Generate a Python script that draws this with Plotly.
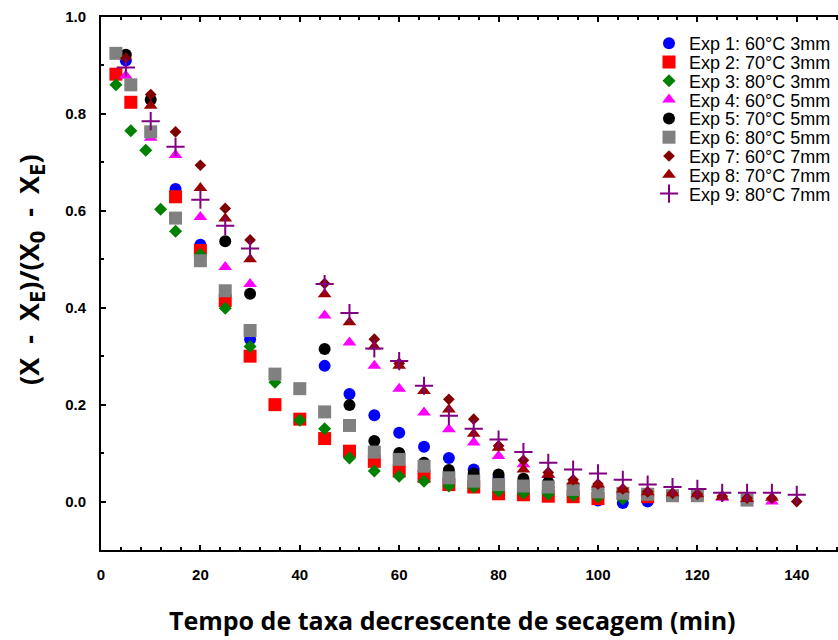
import plotly.graph_objects as go

# ---- data (time in min, dimensionless moisture ratio) ----
t1 = [5, 15, 20, 30, 45, 50, 55, 60, 65, 70, 75, 80, 85, 90, 95, 100, 105, 110]
v1 = [0.91, 0.645, 0.53, 0.335, 0.28, 0.222, 0.178, 0.142, 0.113, 0.09, 0.066, 0.05, 0.04, 0.03, 0.02, 0.002, -0.003, 0.0]

t2 = [3, 6, 15, 20, 25, 30, 35, 40, 45, 50, 55, 60, 65, 70, 75, 80, 85, 90, 95, 100, 110]
v2 = [0.882, 0.824, 0.629, 0.518, 0.415, 0.30, 0.20, 0.17, 0.13, 0.104, 0.083, 0.063, 0.052, 0.035, 0.03, 0.016, 0.014, 0.011, 0.01, 0.006, 0.01]

t3 = [3, 6, 9, 12, 15, 20, 25, 30, 35, 40, 45, 50, 55, 60, 65, 70, 75, 80, 85, 90, 95, 100, 105]
v3 = [0.86, 0.765, 0.725, 0.603, 0.558, 0.51, 0.399, 0.32, 0.246, 0.168, 0.15, 0.09, 0.063, 0.052, 0.042, 0.032, 0.03, 0.022, 0.017, 0.015, 0.013, 0.01, 0.006]

t4 = [5, 10, 15, 20, 25, 30, 45, 50, 55, 60, 65, 70, 75, 80, 85, 90, 95, 100, 105, 110, 115, 120, 125, 130, 135]
v4 = [0.879, 0.751, 0.715, 0.587, 0.484, 0.449, 0.384, 0.328, 0.28, 0.233, 0.184, 0.149, 0.122, 0.094, 0.077, 0.055,
      0.04, 0.03, 0.022, 0.017, 0.014, 0.012, 0.008, 0.004, 0.0]

t5 = [5, 10, 25, 30, 45, 50, 55, 60, 65, 70, 75, 80, 85, 90]
v5 = [0.922, 0.829, 0.537, 0.429, 0.315, 0.199, 0.125, 0.10, 0.08, 0.065, 0.058, 0.056, 0.047, 0.04]

t6 = [3, 6, 10, 15, 20, 25, 30, 35, 40, 45, 50, 55, 60, 65, 70, 75, 80, 85, 90, 95, 100, 105, 110, 115, 120, 130]
v6 = [0.925, 0.86, 0.763, 0.585, 0.497, 0.435, 0.353, 0.263, 0.233, 0.185, 0.157, 0.102, 0.087, 0.073, 0.049, 0.042,
      0.035, 0.032, 0.03, 0.025, 0.02, 0.017, 0.015, 0.012, 0.012, 0.003]

t7 = [5, 10, 15, 20, 25, 30, 45, 55, 60, 70, 75, 80, 85, 90, 95, 100, 105, 110, 115, 120, 125, 130, 135, 140]
v7 = [0.915, 0.84, 0.763, 0.694, 0.605, 0.54, 0.45, 0.335, 0.285, 0.211, 0.17, 0.115, 0.085, 0.06, 0.045, 0.036,
      0.026, 0.02, 0.017, 0.015, 0.011, 0.007, 0.007, 0.0]

t8 = [10, 20, 25, 30, 45, 50, 55, 60, 65, 70, 75, 80, 85, 90, 95, 100, 105, 110, 115, 120, 125, 130, 135]
v8 = [0.817, 0.647, 0.584, 0.50, 0.428, 0.37, 0.32, 0.28, 0.228, 0.19, 0.14, 0.111, 0.066, 0.056, 0.042, 0.035,
      0.025, 0.019, 0.017, 0.015, 0.01, 0.005, 0.008]

t9 = [5, 10, 15, 20, 25, 30, 45, 50, 55, 60, 65, 70, 75, 80, 85, 90, 95, 100, 105, 110, 115, 120, 125, 130, 135, 140]
v9 = [0.896, 0.785, 0.732, 0.623, 0.569, 0.522, 0.449, 0.389, 0.316, 0.29, 0.239, 0.177, 0.15, 0.128, 0.102, 0.08,
      0.066, 0.058, 0.045, 0.035, 0.03, 0.026, 0.018, 0.018, 0.018, 0.014]

names = ["Exp 1: 60°C 3mm", "Exp 2: 70°C 3mm", "Exp 3: 80°C 3mm",
         "Exp 4: 60°C 5mm", "Exp 5: 70°C 5mm", "Exp 6: 80°C 5mm",
         "Exp 7: 60°C 7mm", "Exp 8: 70°C 7mm", "Exp 9: 80°C 7mm"]
x_ticks = [0, 20, 40, 60, 80, 100, 120, 140]
x_title = "Tempo de taxa decrescente de secagem (min)"
y_title = ("(X&nbsp; -&nbsp; X<sub><span style='font-size:22px'>E</span></sub>)/"
           "(X<sub><span style='font-size:22px'>0</span></sub>&nbsp; -&nbsp; X<sub><span style='font-size:22px'>E</span></sub>)")

series = [(t1, v1), (t2, v2), (t3, v3), (t4, v4), (t5, v5), (t6, v6), (t7, v7), (t8, v8), (t9, v9)]
styles = [
    dict(symbol="circle", color="#0000FF", size=12),
    dict(symbol="square", color="#FF0000", size=13),
    dict(symbol="diamond", color="#008000", size=10),
    dict(symbol="triangle-up", color="#FF00FF", size=12),
    dict(symbol="circle", color="#000000", size=12),
    dict(symbol="square", color="#808080", size=13),
    dict(symbol="diamond", color="#800000", size=9),
    dict(symbol="triangle-up", color="#990000", size=12),
    dict(symbol="cross-thin", color="#800080", size=13),
]

# layout geometry of the plot area (pixels)
W, H = 838, 640
ML, MR, MT, MB = 101, 0, 17, 90
plot_w = W - ML - MR
plot_h = H - MT - MB

fig = go.Figure()
legend_layouts = {}
legend_font = dict(family="Liberation Sans, Arial", size=18, color="black")
for i, ((t, v), nm, st) in enumerate(zip(series, names, styles)):
    if st["symbol"] == "cross-thin":
        marker = dict(symbol="cross-thin", size=st["size"], color=st["color"],
                      line=dict(color=st["color"], width=2))
    else:
        marker = dict(symbol=st["symbol"], size=st["size"], color=st["color"], line=dict(width=0))
    lg = "legend" if i == 0 else f"legend{i + 1}"
    fig.add_trace(go.Scatter(x=t, y=v, mode="markers", name=nm, marker=marker, legend=lg))
    center_px = 43.5 + 18.8 * i
    legend_layouts[lg] = dict(
        x=(649 - ML) / plot_w, y=(MT + plot_h - center_px) / plot_h,
        xanchor="left", yanchor="middle",
        bgcolor="rgba(0,0,0,0)", borderwidth=0, font=legend_font, itemwidth=30)

tick_font = dict(family="Liberation Sans, Arial", size=15, color="black", weight="bold")
xtitle_font = dict(family="Open Sans", size=25, color="black", weight="bold")
ytitle_font = dict(family="Open Sans", size=27, color="black", weight="bold")

fig.update_layout(
    width=W, height=H,
    margin=dict(l=ML, r=MR, t=MT, b=MB),
    paper_bgcolor="white", plot_bgcolor="white",
    showlegend=True,
    xaxis=dict(range=[0, 148.3], tickmode="array", tickvals=x_ticks,
               ticks="inside", ticklen=5, tickwidth=2, tickcolor="black",
               minor=dict(dtick=4, tick0=0, ticks="inside", ticklen=3, tickwidth=1.5, tickcolor="black"),
               showline=True, linewidth=2, linecolor="black", mirror="allticks",
               showgrid=False, zeroline=False, tickfont=tick_font, ticklabelstandoff=10),
    yaxis=dict(range=[-0.1, 1.0], tick0=0, dtick=0.2, tickformat=".1f",
               ticks="inside", ticklen=5, tickwidth=2, tickcolor="black",
               minor=dict(dtick=0.1, tick0=0, ticks="inside", ticklen=3, tickwidth=1.5, tickcolor="black"),
               showline=True, linewidth=2, linecolor="black", mirror=False,
               showgrid=False, zeroline=False, tickfont=tick_font, ticklabelstandoff=10),
    annotations=[
        dict(text=x_title, xref="paper", yref="paper",
             x=(452 - ML) / plot_w, y=(MT + plot_h - 620) / plot_h,
             xanchor="center", yanchor="middle", showarrow=False, font=xtitle_font),
        dict(text=y_title, xref="paper", yref="paper", textangle=-90,
             x=(30 - ML) / plot_w, y=(MT + plot_h - 270) / plot_h,
             xanchor="center", yanchor="middle", showarrow=False, font=ytitle_font),
    ],
    **legend_layouts,
)

fig.write_html("out.html")
